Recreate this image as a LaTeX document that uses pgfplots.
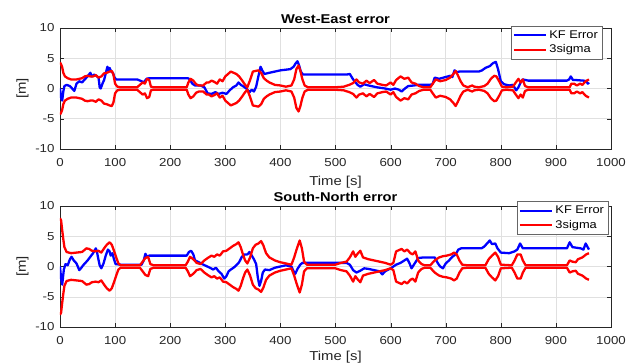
\documentclass[border=0pt]{standalone}
\usepackage{fontspec}
\setmainfont{Liberation Sans}[FakeStretch=1.15]
\usepackage{pgfplots}
\usepackage{pgfplotstable}
\pgfplotsset{compat=1.18}

\pgfplotstableread{
t e
0 0
2 -1.5
4 -2
6 -0.5
8 0.4
12 0.6
18 0.4
22 0
26 -0.4
30 0.8
35 1.2
40 1.0
45 1.5
50 2.0
55 2.6
58 2.0
62 2.3
66 2.1
70 1.8
72 0.2
74 0.0
77 0.8
80 1.4
83 2.5
86 3.6
88 3.0
90 3.4
93 2.8
96 2.6
99 1.8
102 1.5
140 1.5
148 1.2
152 1.0
157 1.6
162 1.7
232 1.7
236 1.5
240 0.8
245 0.5
255 0.5
262 0.2
268 -0.8
275 -0.9
282 -0.6
288 -0.9
295 -0.7
302 -0.9
308 -0.3
314 0.2
320 0.5
324 1.0
328 0.6
332 0.4
338 0.0
344 -0.6
348 -0.2
352 -0.5
356 0.3
360 2.0
364 3.6
367 3.0
371 2.4
380 2.6
400 3.0
418 3.2
424 3.6
428 4.2
431 4.5
434 3.8
437 2.8
441 2.3
520 2.3
526 2.4
532 1.5
540 0.6
545 0.3
552 0.7
560 0.5
575 0.2
590 0.0
600 -0.2
608 0.0
615 -0.2
620 -0.5
626 0.0
632 0.4
642 0.5
650 0.6
670 0.6
676 0.7
680 1.8
688 1.6
700 1.9
708 2.1
712 1.9
716 3.0
720 2.7
725 2.8
760 2.8
766 3.0
772 3.4
780 3.7
786 4.2
791 4.4
795 3.2
800 1.2
806 0.7
815 0.5
822 0.6
828 -0.3
832 0.2
836 1.0
840 1.5
850 1.3
920 1.3
924 1.5
927 2.0
931 1.4
936 1.4
950 1.3
955 1.2
958 0.8
960 1.0
}\weerr

\pgfplotstableread{
t s
0 4.3
2 4.0
4 3.5
6 2.6
9 2.0
14 1.7
20 1.5
30 1.5
40 1.7
45 2.0
50 2.1
55 2.0
60 2.0
65 2.2
70 1.8
75 2.0
80 2.5
85 2.6
90 2.8
94 2.9
97 2.3
100 0.8
104 0.3
110 0.2
140 0.2
145 0.6
150 1.0
154 0.8
158 1.6
162 1.4
165 0.3
170 0.2
230 0.2
233 1.0
237 1.6
242 1.3
247 0.7
252 0.5
260 0.5
266 1.0
270 1.0
275 1.3
280 1.1
285 0.8
290 1.5
295 1.2
300 2.0
305 2.4
310 2.8
315 2.6
320 2.4
325 2.0
330 1.4
336 0.6
340 0.2
345 1.4
350 2.8
355 2.9
360 3.0
365 2.6
370 1.7
375 1.3
380 1.0
390 0.6
400 0.5
410 0.3
420 0.5
425 1.5
429 3.2
433 3.8
436 3.0
440 1.5
444 0.5
450 0.2
500 0.2
515 0.3
525 0.6
532 0.9
538 1.5
543 1.0
550 0.8
556 1.3
562 0.9
570 1.4
576 0.8
585 0.6
592 0.5
600 1.0
605 0.6
610 1.4
618 2.0
625 1.6
632 1.8
638 1.0
645 0.8
652 0.4
660 0.2
672 0.2
678 1.0
682 1.5
690 1.2
700 1.4
708 1.8
714 2.4
718 2.9
722 2.2
727 1.2
732 0.5
740 0.2
748 0.5
752 0.3
760 0.2
770 0.4
776 0.8
782 1.6
788 2.1
792 2.0
797 1.2
802 0.3
810 0.2
822 0.3
828 1.1
832 1.6
836 1.0
840 1.5
844 0.4
850 0.2
925 0.2
928 0.8
933 0.8
938 0.5
944 0.8
948 0.6
954 1.2
960 1.5
}\wesig

\pgfplotstableread{
t e
0 0
2 -2
4 -3
7 -0.5
10 0.4
14 0.2
18 1.2
21 1.6
25 1.0
30 0.5
35 -0.6
38 -0.3
42 0.2
50 1.0
55 1.6
60 2.2
65 3.0
67 2.5
69 1.5
72 0.2
75 -0.3
79 0.5
83 1.8
87 2.8
90 2.5
92 1.8
95 2.2
98 1.2
101 0.4
110 0.3
148 0.3
152 1.0
155 2.1
158 1.6
162 1.8
230 1.8
234 2.4
238 2.6
242 2.0
245 1.0
250 0.8
258 0.4
265 0.1
272 -0.2
278 -0.5
283 -0.2
288 -0.8
293 -1.2
298 -2.0
302 -1.6
306 -0.8
310 -0.5
315 -0.2
320 0.2
325 0.7
330 1.6
335 2.0
340 2.0
344 2.4
348 1.8
352 1.2
356 0.4
359 -1.8
362 -3.2
365 -2.4
368 -1.0
372 -0.5
380 -0.6
390 -0.2
400 0.0
410 0.2
420 0.0
424 -0.8
427 -1.2
431 -0.4
436 0.3
440 0.6
520 0.6
526 0.3
532 -0.6
538 -1.0
545 -0.7
552 -0.3
560 -0.4
570 -0.6
580 -0.8
585 -1.3
590 -0.8
600 -0.3
610 0.3
618 0.6
625 1.0
630 1.3
634 0.6
638 -0.3
643 0.4
650 1.4
660 1.5
680 1.5
686 0.5
690 0.0
695 -0.3
700 0.5
706 1.0
712 1.6
718 2.0
723 2.8
728 3.0
765 3.0
770 3.3
776 3.9
780 4.3
784 3.7
790 3.8
794 3.0
800 2.3
815 2.2
825 2.5
830 2.8
835 3.8
840 3.0
920 3.0
925 4.0
930 3.2
945 3.0
950 2.8
954 3.8
957 3.3
960 2.8
}\snerr

\pgfplotstableread{
t s
0 8.0
2 7.6
4 6.0
6 4.5
8 3.2
12 2.4
20 2.2
30 2.3
40 2.4
48 3.0
53 2.9
58 2.6
65 2.5
70 2.6
75 2.3
80 3.0
85 3.6
90 4.0
94 3.6
98 2.6
102 1.5
106 0.5
110 0.2
145 0.2
150 0.8
155 1.4
160 1.6
164 0.4
170 0.2
228 0.2
232 0.8
236 1.6
242 1.2
248 0.6
255 0.4
262 1.0
268 1.4
275 1.8
280 1.6
285 2.0
290 1.8
296 2.5
302 2.6
308 3.0
314 3.4
320 3.7
324 4.0
328 3.2
332 2.0
336 1.0
340 0.5
345 1.5
350 3.0
355 3.6
360 3.8
365 4.2
369 3.5
374 2.2
380 1.5
390 1.0
400 0.7
410 0.5
420 0.3
425 1.5
430 3.0
435 4.3
439 3.0
443 0.8
448 0.3
500 0.3
510 0.6
520 0.8
526 1.5
532 2.5
536 1.6
540 2.1
545 2.6
550 1.5
560 1.2
570 1.0
580 0.8
590 0.6
600 0.3
605 0.6
610 2.5
615 2.7
620 2.9
625 2.5
630 2.8
636 2.2
640 2.0
645 2.5
650 1.0
656 0.4
662 0.2
672 0.2
680 1.0
688 1.5
695 1.7
702 1.8
710 2.0
715 2.3
720 2.0
725 1.0
730 0.3
740 0.2
772 0.2
778 1.2
784 1.8
790 2.3
795 1.6
800 0.3
820 0.2
825 1.0
830 2.0
836 2.0
840 1.0
845 0.2
920 0.2
925 1.0
930 0.8
936 0.7
940 1.2
948 1.5
955 2.0
960 2.2
}\snsig

\definecolor{mblue}{RGB}{0,0,255}
\definecolor{mred}{RGB}{255,0,0}

\pgfplotsset{mystyle/.style={
  width=551bp, height=121bp, scale only axis,
  xmin=0, xmax=1000, ymin=-10, ymax=10,
  xtick={0,100,...,1000}, ytick={-10,-5,0,5,10},
  grid=major, major grid style={black!12, line width=0.5pt},
  axis line style={black!85, line width=0.6pt},
  tick style={black!85},
  tick align=inside,
  /pgf/number format/assume math mode=true,
  /pgf/number format/1000 sep={},
  ticklabel style={font=\fontsize{11.6}{13}\selectfont, text=black!85},
  xticklabel style={yshift=-5.5pt},
  yticklabel style={xshift=-2pt},
  xlabel={Time [s]}, ylabel={[m]},
  label style={font=\fontsize{13}{15}\selectfont, text=black!85},
  xlabel style={yshift=-3pt},
  title style={font=\bfseries\fontsize{12.8}{15}\selectfont, yshift=-5.5pt},
  legend style={font=\fontsize{11.2}{13}\selectfont, draw=black!60, line width=0.6pt,
     inner xsep=2pt, inner ysep=2.5pt, row sep=1pt, fill=white},
  legend cell align=left,
  legend image code/.code={\draw[#1, line width=2pt] (0cm,0cm) -- (1.15cm,0cm);},
  every axis plot/.append style={line width=2.3pt, line join=round},
}}

\begin{document}
\begin{tikzpicture}
\useasboundingbox (0,0) rectangle (629bp,364bp);
\begin{axis}[mystyle, at={(60bp,215bp)}, anchor=south west,
  title={West-East error},
  legend style={at={(0.984,1.017)}, anchor=north east}]
\addplot[mblue] table[x=t,y=e] {\weerr};
\addlegendentry{KF Error}
\addplot[mred] table[x=t,y=s] {\wesig};
\addlegendentry{3sigma}
\addplot[mred, forget plot] table[x=t,y expr=-\thisrow{s}] {\wesig};
\end{axis}
\begin{axis}[mystyle, at={(60bp,37bp)}, anchor=south west,
  title={South-North error},
  xlabel style={yshift=3pt},
  legend style={at={(0.995,1.04)}, anchor=north east}]
\addplot[mblue] table[x=t,y=e] {\snerr};
\addlegendentry{KF Error}
\addplot[mred] table[x=t,y=s] {\snsig};
\addlegendentry{3sigma}
\addplot[mred, forget plot] table[x=t,y expr=-\thisrow{s}] {\snsig};
\end{axis}
\end{tikzpicture}
\end{document}
